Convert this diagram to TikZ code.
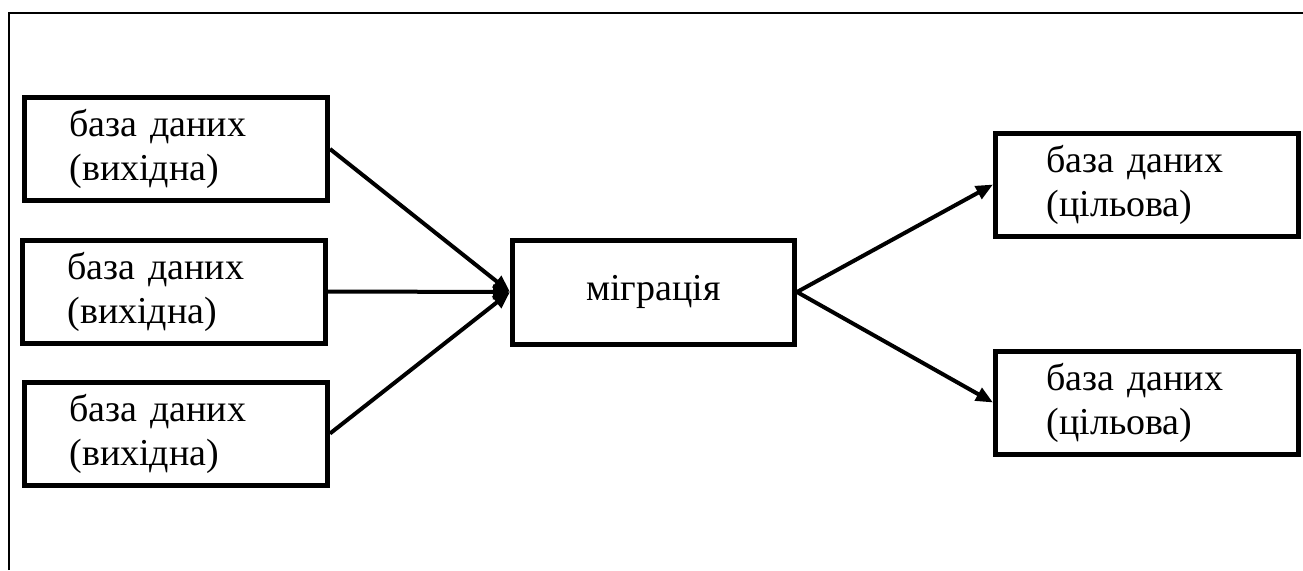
\documentclass[tikz,border=0pt]{standalone}
\usepackage{fontspec}
\setmainfont{Liberation Serif}[Ligatures=TeX]
\usetikzlibrary{arrows.meta}
\begin{document}
\begin{tikzpicture}[x=1pt,y=-1pt,
  dbbox/.style={draw,line width=5pt,rectangle,minimum width=303pt,minimum height=103pt,
    font=\fontsize{38}{44}\selectfont,align=left,inner ysep=0pt},
  srcbox/.style={dbbox,text width=213pt,inner xsep=45pt},
  tgtbox/.style={dbbox,text width=201pt,inner xsep=51pt},
  midbox/.style={draw,line width=5pt,rectangle,minimum width=282pt,minimum height=104pt,
    font=\fontsize{38}{44}\selectfont},
  conn/.style={line width=4pt,-{Triangle[length=17pt,width=14pt]}}]
\useasboundingbox (0,0) rectangle (1303,570);
\fill[white] (0,0) rectangle (1303,570);
\draw[line width=2pt] (9,570) -- (9,13) -- (1303,13);
\node[srcbox] (s1) at (176,149) {база даних\\(вихідна)};
\node[srcbox] (s2) at (174,291.5) {база даних\\(вихідна)};
\node[srcbox] (s3) at (176,433.5) {база даних\\(вихідна)};
\node[midbox] (m) at (653.5,292) {міграція};
\node[tgtbox] (t1) at (1147,184.5) {база даних\\(цільова)};
\node[tgtbox] (t2) at (1147,402.5) {база даних\\(цільова)};
\draw[conn] (s1.east) -- (m.west);
\draw[conn] (s2.east) -- (m.west);
\draw[conn] (s3.east) -- (m.west);
\draw[conn] (m.east) -- (t1.west);
\draw[conn] (m.east) -- (t2.west);
\end{tikzpicture}
\end{document}
